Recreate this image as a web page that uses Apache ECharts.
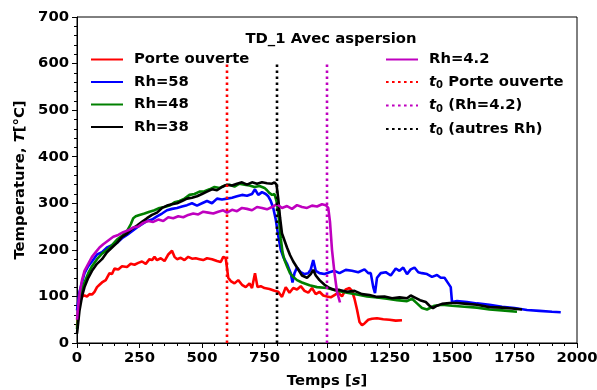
<!DOCTYPE html>
<html><head><meta charset="utf-8">
<script src="https://cdn.jsdelivr.net/npm/echarts@6/dist/echarts.min.js"></script>
<style>html,body{margin:0;padding:0;background:#fff}#c{width:597px;height:390px}</style>
</head><body><div id="c"></div>
<script>
var titleText = 'TD_1 Avec aspersion';
var xTicks = [0, 250, 500, 750, 1000, 1250, 1500, 1750, 2000];
var yTicks = [0, 100, 200, 300, 400, 500, 600, 700];

var redT = [0,5,10,20,30,40,50,60,70,80,90,100,115,130,140,150,165,180,200,215,230,245,260,275,290,300,310,320,335,350,365,380,390,400,415,430,445,460,475,490,505,520,540,560,575,585,595,600,605,615,630,645,660,675,690,700,712,722,735,750,770,790,805,820,835,850,865,880,895,910,925,940,955,970,985,1000,1015,1030,1045,1060,1075,1090,1100,1110,1120,1130,1140,1150,1165,1180,1200,1225,1250,1275,1300];
var redY = [35,60,85,100,102,100,105,104,110,120,125,130,135,150,148,160,158,165,163,170,168,172,175,170,180,178,185,178,182,176,190,198,185,180,183,178,185,181,182,180,178,182,180,176,174,185,182,178,140,133,128,135,125,120,128,118,150,120,122,118,116,112,110,99,120,108,118,115,122,112,108,118,105,110,102,100,98,103,108,100,115,118,112,95,72,45,38,42,50,52,53,51,50,48,49];

var blueT = [0,5,10,20,30,45,60,80,100,120,140,160,180,200,220,240,260,280,300,320,340,360,380,400,420,440,460,480,500,520,540,560,580,600,620,640,660,680,700,712,725,740,755,765,775,785,795,805,815,825,840,855,862,870,880,895,910,925,935,945,955,970,990,1010,1030,1050,1075,1100,1125,1150,1165,1175,1185,1192,1200,1215,1235,1255,1275,1290,1305,1320,1335,1350,1365,1380,1400,1420,1440,1455,1470,1485,1495,1500,1520,1560,1600,1650,1700,1750,1800,1850,1900,1935];
var blueY = [70,90,110,130,150,165,175,190,195,205,210,215,225,232,240,248,255,262,265,272,278,285,288,290,293,296,300,295,300,305,300,310,308,310,312,315,318,316,320,330,318,324,320,315,305,290,265,230,200,185,170,150,130,150,162,152,148,150,158,178,155,150,148,152,155,150,157,155,152,158,150,150,120,107,140,150,152,145,160,155,162,148,158,162,152,150,148,142,146,140,140,128,120,88,90,88,85,82,78,75,71,69,67,66];

var greenT = [0,5,10,20,30,45,60,80,100,120,140,160,180,200,215,225,235,250,270,290,310,330,350,370,390,410,430,450,470,490,510,530,550,570,590,610,630,650,670,690,710,730,750,760,770,780,790,800,808,815,822,830,840,852,865,880,900,930,960,1000,1040,1080,1120,1160,1200,1240,1280,1320,1340,1360,1380,1400,1430,1460,1500,1550,1600,1650,1700,1760];
var greenY = [30,60,90,115,130,150,165,180,192,200,210,222,230,240,255,268,272,275,278,282,285,290,292,295,302,305,310,318,320,325,326,330,335,333,338,340,336,342,340,338,335,337,333,328,322,318,320,300,265,225,195,178,165,150,142,135,130,124,120,118,112,108,104,100,98,95,92,90,95,85,75,72,80,82,80,78,76,72,70,67];

var blackT = [0,5,10,20,30,45,60,80,100,120,140,160,180,200,220,240,260,280,300,320,340,360,380,400,420,440,460,480,500,520,540,560,580,600,620,640,660,680,700,720,740,760,780,790,798,805,812,820,830,840,852,865,880,900,920,935,945,955,970,990,1010,1030,1050,1080,1110,1140,1170,1200,1230,1260,1290,1320,1335,1350,1372,1395,1410,1424,1440,1460,1490,1520,1560,1600,1650,1700,1740,1780];
var blackY = [20,45,70,100,120,140,155,170,180,195,205,215,228,235,245,252,260,268,275,280,290,295,298,300,305,310,312,315,320,325,330,328,335,340,338,342,345,340,345,342,345,343,342,345,340,310,270,235,220,205,189,175,162,145,140,148,157,145,135,125,118,114,114,110,112,105,103,99,100,96,98,96,102,98,92,88,80,75,80,84,86,86,84,82,77,76,74,72];

var magT = [0,5,10,20,30,45,60,75,90,105,125,145,165,185,205,225,245,265,285,305,325,345,365,385,405,425,445,465,485,505,525,545,565,585,600,620,640,660,680,700,720,740,760,780,800,820,840,860,880,900,920,940,960,980,995,1005,1012,1020,1030,1040,1052];
var magY = [50,80,105,135,155,170,185,195,205,212,220,228,232,238,242,248,250,258,262,260,265,262,270,268,272,270,275,278,276,282,280,278,282,285,280,286,283,290,288,285,292,290,287,292,298,290,294,288,296,292,290,295,293,298,296,290,260,200,150,110,87];

var t0Porte = 600, t0Rh42 = 1000, t0Autres = 800, t0Top = 600;

function pairs(t, y) { return t.map(function (v, i) { return [v, y[i]]; }); }

var FONT = 'DejaVu Sans';
var FS = 14.8;
var chart = echarts.init(document.getElementById('c'), null, { renderer: 'canvas' });

function lineSeries(name, color, t, y) {
  return { name: name, type: 'line', data: pairs(t, y), symbol: 'none', showSymbol: false,
    lineStyle: { color: color, width: 2.6 }, itemStyle: { color: color }, animation: false, z: 2 };
}
function vSeries(name, color, x) {
  return { name: name, type: 'line', data: [[x, 0], [x, t0Top]], symbol: 'none', showSymbol: false,
    lineStyle: { color: color, width: 2.6, type: [2.6, 3.4] }, itemStyle: { color: color }, animation: false, z: 3 };
}

var richLegend = {
  i: { fontFamily: FONT, fontWeight: 'bold', fontStyle: 'italic', fontSize: FS, color: '#000' },
  sub: { fontFamily: FONT, fontWeight: 'bold', fontSize: 10, color: '#000', padding: [7, 0, 0, 0] },
  n: { fontFamily: FONT, fontWeight: 'bold', fontSize: FS, color: '#000' }
};
function legendFmt(name) {
  if (name.indexOf('t0') === 0) return '{i|t}{sub|0}{n|' + name.slice(2) + '}';
  return '{n|' + name + '}';
}
var legendText = { fontFamily: FONT, fontWeight: 'bold', fontSize: FS, color: '#000', rich: richLegend, padding: [0, 0, 0, 6] };

var option = {
  backgroundColor: '#fff',
  animation: false,
  title: { text: titleText, left: 326, top: 27, textAlign: 'center',
    textStyle: { fontFamily: FONT, fontWeight: 'bold', fontSize: FS, color: '#000' } },
  grid: { left: 77, right: 20, top: 17, bottom: 47, outerBoundsMode: 'none', containLabel: false,
    show: true, borderColor: '#000', borderWidth: 1, backgroundColor: 'transparent' },
  legend: [
    { data: ['Porte ouverte', 'Rh=58', 'Rh=48', 'Rh=38'], orient: 'vertical', left: 90, top: 52, padding: 0,
      itemWidth: 32, itemHeight: 14, itemGap: 7.5, formatter: legendFmt, itemStyle: { opacity: 0 },
      textStyle: legendText },
    { data: ['Rh=4.2', 't0 Porte ouverte', 't0 (Rh=4.2)', 't0 (autres Rh)'], orient: 'vertical', left: 385, top: 52, padding: 0,
      itemWidth: 32, itemHeight: 14, itemGap: 7.5, formatter: legendFmt, itemStyle: { opacity: 0 },
      textStyle: legendText }
  ],
  xAxis: {
    type: 'value', min: xTicks[0], max: xTicks[xTicks.length - 1], interval: 250,
    name: '{b|Temps [}{i|s}{b|]}', nameLocation: 'middle', nameGap: 31,
    nameTextStyle: { rich: {
      b: { fontFamily: FONT, fontWeight: 'bold', fontSize: FS, color: '#000' },
      i: { fontFamily: FONT, fontWeight: 'bold', fontStyle: 'italic', fontSize: FS, color: '#000' } } },
    axisLine: { lineStyle: { color: '#000', width: 1 } },
    axisTick: { inside: false, length: 5, lineStyle: { color: '#000', width: 1 } },
    minorTick: { show: true, splitNumber: 5, length: 3, lineStyle: { color: '#000', width: 1 } },
    axisLabel: { fontFamily: FONT, fontWeight: 'bold', fontSize: FS, color: '#000', margin: 8,
      formatter: function (v) { return String(v); } },
    splitLine: { show: false }
  },
  yAxis: {
    type: 'value', min: yTicks[0], max: yTicks[yTicks.length - 1], interval: 100,
    name: '{b|Temperature, }{i|T}{b|[°C]}', nameLocation: 'middle', nameGap: 47, nameRotate: 90,
    nameTextStyle: { rich: {
      b: { fontFamily: FONT, fontWeight: 'bold', fontSize: FS, color: '#000' },
      i: { fontFamily: FONT, fontWeight: 'bold', fontStyle: 'italic', fontSize: FS, color: '#000' } } },
    axisLine: { show: true, lineStyle: { color: '#000', width: 1 } },
    axisTick: { show: true, inside: false, length: 5, lineStyle: { color: '#000', width: 1 } },
    minorTick: { show: true, splitNumber: 5, length: 3, lineStyle: { color: '#000', width: 1 } },
    axisLabel: { fontFamily: FONT, fontWeight: 'bold', fontSize: FS, color: '#000', margin: 8,
      formatter: function (v) { return String(v); } },
    splitLine: { show: false }
  },
  series: [
    lineSeries('Porte ouverte', '#ff0000', redT, redY),
    lineSeries('Rh=58', '#0000ff', blueT, blueY),
    lineSeries('Rh=48', '#008000', greenT, greenY),
    lineSeries('Rh=38', '#000000', blackT, blackY),
    lineSeries('Rh=4.2', '#bf00bf', magT, magY),
    vSeries('t0 Porte ouverte', '#ff0000', t0Porte),
    vSeries('t0 (Rh=4.2)', '#bf00bf', t0Rh42),
    vSeries('t0 (autres Rh)', '#000000', t0Autres)
  ]
};
chart.setOption(option);
</script></body></html>
